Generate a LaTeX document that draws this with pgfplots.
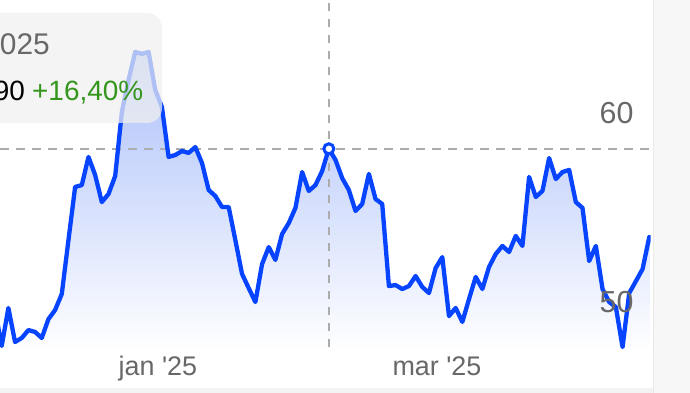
\documentclass[border=0pt]{standalone}
\usepackage{pgfplots}
\pgfplotsset{compat=1.18}
\usepackage{pgfplotstable}
\usepackage{fontspec}
\setmainfont{Liberation Sans}[Ligatures=TeXOff]

\definecolor{lineblue}{RGB}{6,68,255}
\definecolor{areatop}{RGB}{172,192,250}
\definecolor{crossgray}{RGB}{172,172,172}
\definecolor{labelgray}{RGB}{104,104,104}
\definecolor{gaingreen}{RGB}{52,150,28}
\definecolor{panelgray}{RGB}{247,247,247}
\definecolor{paneledge}{RGB}{234,234,234}
\definecolor{tipgray}{RGB}{240,240,240}

% daily closing prices, one row per trading day
\pgfplotstableread{
k v
-1 50.37
0 48.47
1 50.48
2 48.68
3 48.89
4 49.31
5 49.21
6 48.89
7 49.89
8 50.37
9 51.22
10 54.07
11 56.88
12 56.98
13 58.47
14 57.51
15 56.08
16 56.51
17 57.46
18 60.85
19 62.54
20 64.02
21 63.92
22 64.02
23 62.01
24 61.11
25 58.47
26 58.57
27 58.78
28 58.68
29 58.99
30 58.15
31 56.72
32 56.40
33 55.82
34 55.82
35 54.07
36 52.28
37 51.53
38 50.79
39 52.80
40 53.70
41 53.02
42 54.39
43 54.97
44 55.77
45 57.67
46 56.67
47 56.98
48 57.72
49 58.90
50 58.31
51 57.35
52 56.72
53 55.61
54 55.98
55 57.57
56 56.24
57 55.98
58 51.64
59 51.69
60 51.48
61 51.64
62 52.17
63 51.59
64 51.27
65 52.59
66 53.17
67 50.05
68 50.48
69 49.74
70 50.95
71 52.12
72 51.48
73 52.65
74 53.33
75 53.76
76 53.44
77 54.29
78 53.76
79 57.41
80 56.35
81 56.67
82 58.41
83 57.30
84 57.67
85 57.78
86 56.08
87 55.77
88 52.96
89 53.76
90 51.48
91 50.79
92 50.53
93 48.41
94 51.27
95 51.90
96 52.54
97 54.23
}\prices

\begin{document}
\begin{tikzpicture}[x=1bp,y=1bp]
\useasboundingbox (0bp,0bp) rectangle (690bp,393bp);
\fill[white] (0bp,0bp) rectangle (690bp,393bp);
% card edges
\fill[panelgray] (653bp,0bp) rectangle (690bp,393bp);
\draw[paneledge, line width=1bp] (653.5bp,0bp) -- (653.5bp,393bp);
\fill[paneledge!60!white] (0bp,0bp) rectangle (653bp,5bp);

\begin{axis}[
  at={(0bp,41bp)}, anchor=south west,
  scale only axis, width=650.6bp, height=352bp,
  xmin=-0.255, xmax=97.2, ymin=48.15, ymax=66.77,
  axis on top,
  axis line style={draw=none},
  major tick length=0pt,
  xtick={23.4,65.2},
  xticklabels={jan '25, mar '25},
  xticklabel style={anchor=base, inner sep=0pt, yshift=-24bp,
    text=labelgray, font=\fontsize{27}{32}\selectfont},
  ytick={50,60},
  yticklabel pos=right,
  yticklabel style={anchor=east, inner sep=0pt, xshift=-17bp, yshift=14.5bp,
    text=labelgray, font=\fontsize{30.5}{36}\selectfont},
  /pgf/number format/assume math mode=true,
]
% shaded area under the price line
\addplot[draw=none, top color=areatop, bottom color=white]
  table[x=k, y=v] {\prices} -- (axis cs:97,48.15) -- (axis cs:-1,48.15) -- cycle;
% crosshair at the selected day
\draw[crossgray, line width=2.2bp, dash pattern=on 9bp off 7bp]
  (axis cs:-0.255,58.90) -- (axis cs:97.2,58.90);
\draw[crossgray, line width=2.2bp, dash pattern=on 8bp off 8bp]
  (axis cs:49,48.4) -- (axis cs:49,66.77);
\addplot[lineblue, line width=4.3bp, line join=round, line cap=round]
  table[x=k, y=v] {\prices};
\addplot[only marks, mark=*, mark size=5bp,
  mark options={fill=white, draw=lineblue, line width=3bp}]
  coordinates {(49,58.90)};
\end{axis}

% tooltip card
\fill[tipgray, fill opacity=0.72, rounded corners=15bp] (-40bp,270bp) rectangle (162bp,380bp);
\node[anchor=base east, inner sep=0pt, text=labelgray,
  font=\fontsize{30}{36}\selectfont] at (50bp,338bp) {2025};
\node[anchor=base east, inner sep=0pt, text=black,
  font=\fontsize{28}{34}\selectfont] at (25bp,292bp) {58,90};
\node[anchor=base west, inner sep=0pt, text=gaingreen,
  font=\fontsize{28}{34}\selectfont] at (32bp,292bp) {+16,40\%};
\end{tikzpicture}
\end{document}
